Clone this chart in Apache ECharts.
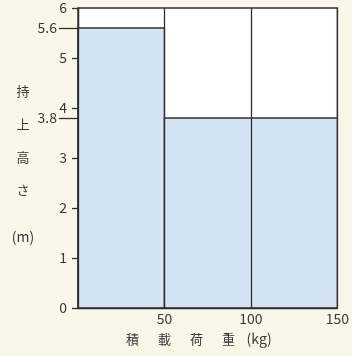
<!DOCTYPE html>
<html>
<head>
<meta charset="utf-8">
<script src="https://cdn.jsdelivr.net/npm/echarts@6/dist/echarts.min.js"></script>
<style>
  html, body { margin: 0; padding: 0; background: #f9f6ea; }
  #main { width: 352px; height: 356px; }
</style>
</head>
<body>
<div id="main"></div>
<script>
// 積載荷重の区間 [開始kg, 終了kg] と持上高さ(m)
var loadFrom = [0, 50];
var loadTo = [50, 150];
var liftHeight = [5.6, 3.8];
var xTicks = [50, 100, 150];
var markedHeights = [3.8, 5.6];

var lineColor = '#332e2e';
var textColor = '#3b3838';
var fontFamily = '"Noto Sans CJK JP", "Noto Sans", sans-serif';

var rows = [];
for (var i = 0; i < loadFrom.length; i++) {
    rows.push([loadFrom[i], loadTo[i], liftHeight[i]]);
}

var chart = echarts.init(document.getElementById('main'));
var option = {
    backgroundColor: '#f9f6ea',
    animation: false,
    grid: {
        left: 78, right: 12, top: 8, bottom: 48,
        show: true,
        backgroundColor: '#ffffff',
        borderColor: lineColor,
        borderWidth: 1.3
    },
    xAxis: {
        type: 'value',
        min: 0,
        max: 150,
        interval: 50,
        z: 5,
        axisLine: { show: true, lineStyle: { color: lineColor, width: 1.3 } },
        axisTick: { show: false },
        splitLine: { show: true, lineStyle: { color: lineColor, width: 1.3 } },
        axisLabel: {
            customValues: xTicks,
            color: textColor, fontSize: 14, fontFamily: fontFamily, margin: 4
        },
        name: '{c|積}{c|載}{c|荷}{c|重}{k|(kg)}',
        nameLocation: 'middle',
        nameGap: 24,
        nameTextStyle: {
            color: textColor, fontFamily: fontFamily, fontSize: 13,
            padding: [0, 27, 0, 0],
            rich: {
                c: { width: 32, align: 'center', fontSize: 13, fontFamily: fontFamily, color: textColor },
                k: { fontSize: 14, fontFamily: fontFamily, color: textColor, padding: [0, 0, 0, 2] }
            }
        }
    },
    yAxis: [{
        type: 'value',
        min: 0,
        max: 6,
        interval: 1,
        axisLine: { show: true, lineStyle: { color: lineColor, width: 1.3 } },
        axisTick: { show: true, length: 6, lineStyle: { color: lineColor, width: 1.3 } },
        splitLine: { show: false },
        axisLabel: { color: textColor, fontSize: 14, fontFamily: fontFamily, margin: 11 },
        name: '持\n上\n高\nさ\n{m|(m)}',
        nameLocation: 'middle',
        nameRotate: 0,
        nameGap: 55,
        nameTextStyle: {
            color: textColor, fontFamily: fontFamily, fontSize: 13,
            align: 'center', verticalAlign: 'middle',
            lineHeight: 33,
            padding: [26, 0, 0, 0],
            rich: {
                m: { lineHeight: 60, fontSize: 14, fontFamily: fontFamily, color: textColor }
            }
        }
    }, {
        type: 'value',
        min: 0,
        max: 6,
        position: 'left',
        axisLine: { show: false },
        splitLine: { show: false },
        axisTick: {
            show: true, length: 19, customValues: markedHeights,
            lineStyle: { color: lineColor, width: 1.3 }
        },
        axisLabel: {
            customValues: markedHeights,
            color: textColor, fontSize: 14, fontFamily: fontFamily, margin: 21
        }
    }],
    series: [{
        type: 'custom',
        data: rows,
        z: 2,
        renderItem: function (params, api) {
            var p0 = api.coord([api.value(0), api.value(2)]);
            var p1 = api.coord([api.value(1), 0]);
            return {
                type: 'rect',
                shape: { x: p0[0], y: p0[1], width: p1[0] - p0[0], height: p1[1] - p0[1] },
                style: { fill: '#d3e4f5', stroke: lineColor, lineWidth: 1.3 }
            };
        }
    }]
};
chart.setOption(option);
</script>
</body>
</html>
